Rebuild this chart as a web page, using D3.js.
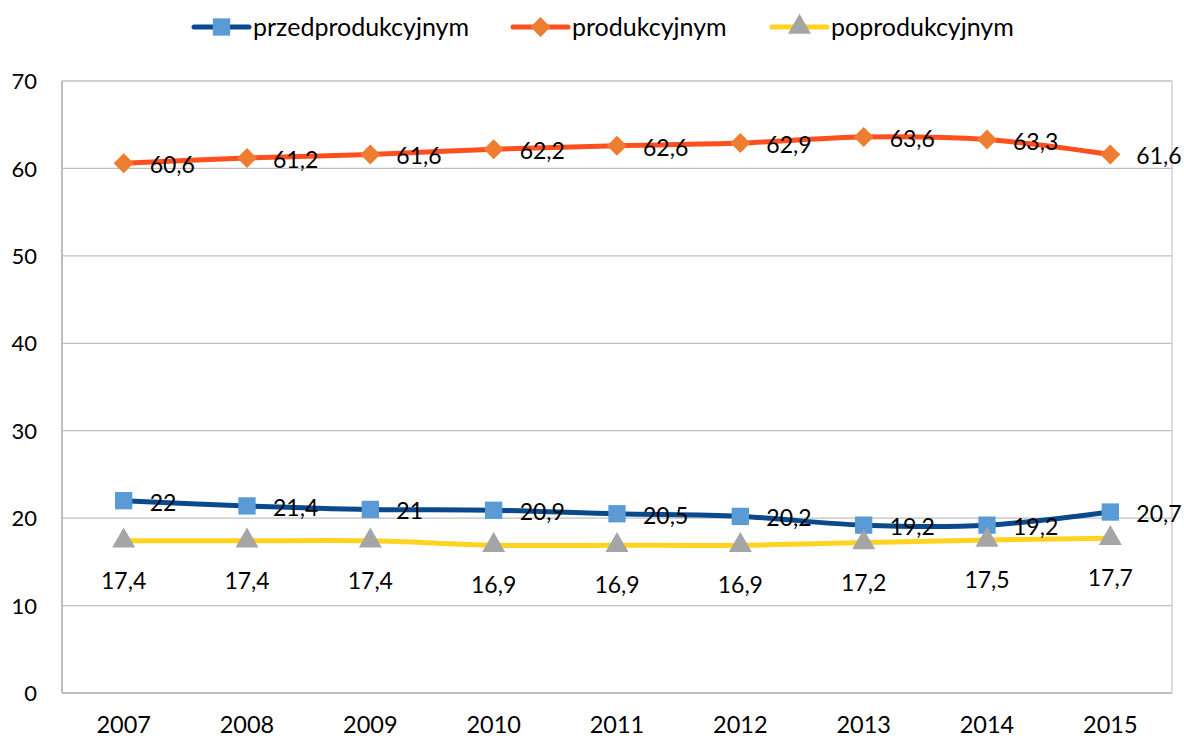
<!DOCTYPE html>
<html>
<head>
<meta charset="utf-8">
<script src="https://cdn.jsdelivr.net/npm/d3@7"></script>
<style>
  body { margin: 0; background: #fff; }
  svg text { font-family: Lato, "Open Sans", sans-serif; fill: #000; }
</style>
</head>
<body>
<div id="chart"></div>
<script>
const years = ["2007", "2008", "2009", "2010", "2011", "2012", "2013", "2014", "2015"];
const przed = [22, 21.4, 21, 20.9, 20.5, 20.2, 19.2, 19.2, 20.7];
const prod = [60.6, 61.2, 61.6, 62.2, 62.6, 62.9, 63.6, 63.3, 61.6];
const popr = [17.4, 17.4, 17.4, 16.9, 16.9, 16.9, 17.2, 17.5, 17.7];
const yTicks = [0, 10, 20, 30, 40, 50, 60, 70];

const series = [
  { name: "przedprodukcyjnym", values: przed, line: "#0a4a8c", marker: "#5b9bd5", shape: d3.symbolSquare, size: 300, rot: 0, label: "right" },
  { name: "produkcyjnym", values: prod, line: "#ff4f1f", marker: "#ed7d31", shape: d3.symbolSquare, size: 200, rot: 45, label: "right" },
  { name: "poprodukcyjnym", values: popr, line: "#ffd320", marker: "#a5a5a5", shape: d3.symbolTriangle, size: 230, rot: 0, label: "below" }
];

const width = 1184, height = 738;
const margin = { top: 81, right: 12, bottom: 45, left: 62 };
const innerW = width - margin.left - margin.right;
const innerH = height - margin.top - margin.bottom;

const svg = d3.select("#chart").append("svg")
  .attr("width", width)
  .attr("height", height);

const g = svg.append("g").attr("transform", `translate(${margin.left},${margin.top})`);

const x = d3.scaleBand().domain(years).range([0, innerW]);
const y = d3.scaleLinear().domain([0, 70]).range([innerH, 0]);
const cx = d => x(d) + x.bandwidth() / 2;

// grid lines
g.selectAll(".grid").data(yTicks).enter().append("line")
  .attr("x1", 0).attr("x2", innerW)
  .attr("y1", d => y(d)).attr("y2", d => y(d))
  .attr("stroke", "#c0c0c0").attr("stroke-width", 1.3);

// frame
g.append("line").attr("x1", 0).attr("x2", 0).attr("y1", 0).attr("y2", innerH)
  .attr("stroke", "#bdbdbd").attr("stroke-width", 2);
g.append("line").attr("x1", innerW).attr("x2", innerW).attr("y1", 0).attr("y2", innerH)
  .attr("stroke", "#d0d0d0").attr("stroke-width", 1.5);
g.append("line").attr("x1", 0).attr("x2", innerW).attr("y1", innerH).attr("y2", innerH)
  .attr("stroke", "#bdbdbd").attr("stroke-width", 2);

// axes
const yAxis = g.append("g").call(d3.axisLeft(y).tickValues(yTicks).tickSize(0).tickPadding(25));
yAxis.select(".domain").remove();
yAxis.selectAll("text").style("font-size", "22px").attr("dy", "0.35em");

const xAxis = g.append("g").attr("transform", `translate(0,${innerH})`)
  .call(d3.axisBottom(x).tickSize(0).tickPadding(23));
xAxis.select(".domain").remove();
xAxis.selectAll("text").style("font-size", "23.5px").attr("dy", "0.71em");

const line = d3.line().x((d, i) => cx(years[i])).y(d => y(d)).curve(d3.curveCatmullRom.alpha(0.5));
const fmt = v => String(v).replace(".", ",");

series.forEach(s => {
  g.append("path").datum(s.values)
    .attr("d", line)
    .attr("fill", "none")
    .attr("stroke", s.line)
    .attr("stroke-width", 5)
    .attr("stroke-linecap", "round");
});

series.forEach(s => {
  g.selectAll(null).data(s.values).enter().append("path")
    .attr("d", d3.symbol().type(s.shape).size(s.size))
    .attr("transform", (d, i) => `translate(${cx(years[i])},${y(d)}) rotate(${s.rot})`)
    .attr("fill", s.marker);

  g.selectAll(null).data(s.values).enter().append("text")
    .attr("x", (d, i) => s.label === "right" ? cx(years[i]) + 26 : cx(years[i]))
    .attr("y", d => s.label === "right" ? y(d) + 2 : y(d) + 40)
    .attr("dy", "0.35em")
    .attr("text-anchor", s.label === "right" ? "start" : "middle")
    .style("font-size", "23px")
    .text(d => fmt(d));
});

// legend
const legendX = [194, 513, 772];
const legend = svg.append("g");
series.forEach((s, i) => {
  const lg = legend.append("g").attr("transform", `translate(${legendX[i]},27)`);
  lg.append("line").attr("x1", 0).attr("x2", 55).attr("y1", 0).attr("y2", 0)
    .attr("stroke", s.line).attr("stroke-width", 5).attr("stroke-linecap", "round");
  lg.append("path").attr("d", d3.symbol().type(s.shape).size(s.size))
    .attr("transform", `translate(27.5,0) rotate(${s.rot})`)
    .attr("fill", s.marker);
  lg.append("text").attr("x", 59).attr("y", 0).attr("dy", "0.35em")
    .style("font-size", "25px").text(s.name);
});
</script>
</body>
</html>
